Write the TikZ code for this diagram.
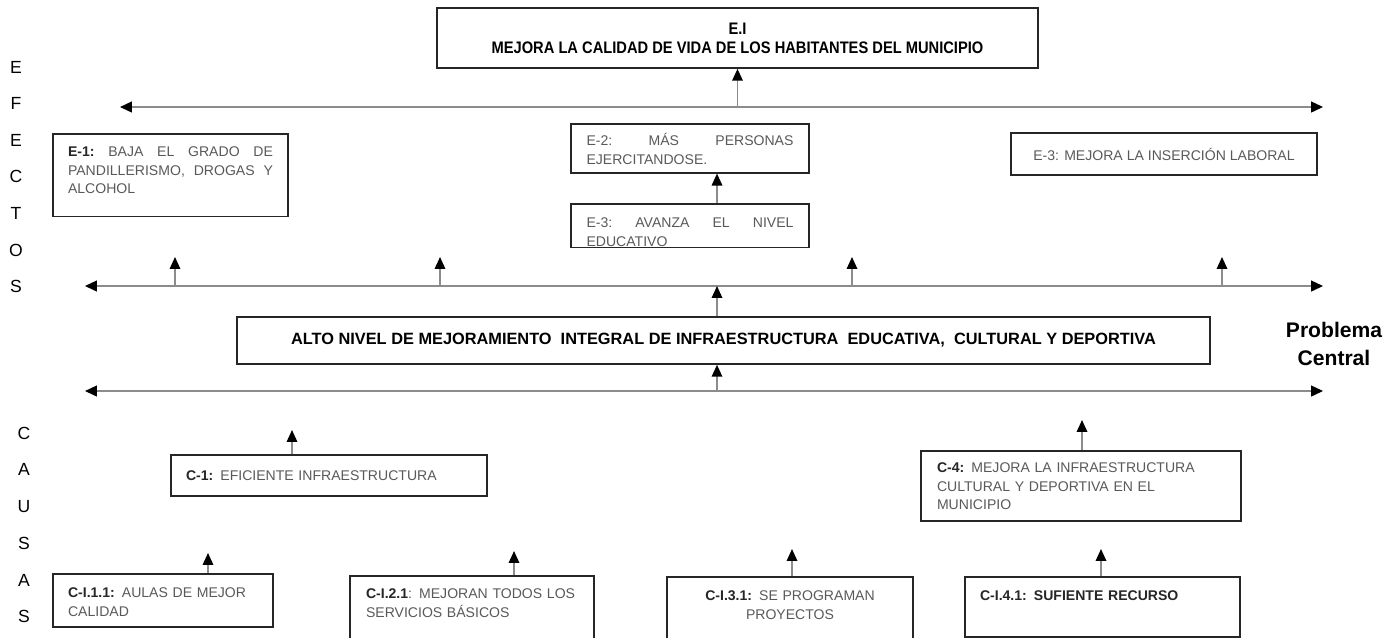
\documentclass[tikz,border=0pt]{standalone}
\usepackage{fontspec}
\setmainfont{Liberation Sans}
\newfontfamily\narrowfont[FakeStretch=0.88]{Liberation Sans}
\usepackage{xcolor}
\usepackage{tikz}
\usetikzlibrary{arrows.meta}
\tikzset{
  font={\fontsize{8pt}{10.5pt}\selectfont}}

\begin{document}
\begin{tikzpicture}[x=0.02cm, y=-0.02cm]

        \tikzset{box/.style = {draw=black!85, line width=0.9pt, rectangle, inner sep=0pt, text=black!65},
                 edge/.style = {draw=black!45, line width=0.9pt, -{Triangle[length=6.8pt,width=6pt,color=black]}},
                 hline/.style = {draw=black!45, line width=0.9pt,
                   {Triangle[length=6.8pt,width=6.2pt,color=black]}-{Triangle[length=6.8pt,width=6.2pt,color=black]}}}

        \useasboundingbox (0,0) rectangle (1393,637);
        \clip (0,0) rectangle (1393,637);

        % side labels
        \node[align=center, font={\fontsize{10pt}{20.8pt}\selectfont}] (ef) at (16,177) {E\\F\\E\\C\\T\\O\\S};
        \node[align=center, font={\fontsize{10pt}{20.9pt}\selectfont}] (ca) at (24,525) {C\\A\\U\\S\\A\\S};
        \node[align=center, font={\bfseries\fontsize{12pt}{16pt}\selectfont}] (pc) at (1334,344) {Problema\\Central};

        % vertices
        \node[box, text=black, align=center, minimum width=12.02cm, minimum height=1.2cm,
              font={\narrowfont\bfseries\fontsize{9.5pt}{10.8pt}\selectfont}] (ei)
            at (737.5,38) {E.I\\MEJORA LA CALIDAD DE VIDA DE LOS HABITANTES DEL MUNICIPIO};
        \node[box, anchor=north, minimum width=4.7cm, text width=4.1cm, align=left, text height=13pt, text depth=34pt] (e1)
            at (170.5,133) {\textcolor{black!85}{\bfseries E-1:}\hfill BAJA\hfill EL\hfill GRADO\hfill DE\\PANDILLERISMO,\hfill DROGAS\hfill Y\\ALCOHOL};
        \node[box, anchor=north, minimum width=4.76cm, text width=4.14cm, align=left, text height=12.5pt, text depth=15.4pt] (e2)
            at (690,123) {E-2:\hfill MÁS\hfill PERSONAS\\EJERCITANDOSE.};
        \begin{scope}
          \clip (560,190) rectangle (820,247.8);
          \node[box, anchor=north, minimum width=4.76cm, text width=4.14cm, align=left, text height=13.7pt, text depth=11.4pt] (e3a)
              at (690,203) {E-3:\hfill AVANZA\hfill EL\hfill NIVEL\\EDUCATIVO};
        \end{scope}
        \node[box, align=center, minimum width=6.12cm, minimum height=0.84cm] (e3b)
            at (1164,154) {E-3: MEJORA LA INSERCIÓN LABORAL};
        \node[box, text=black, align=center, minimum width=19.46cm, minimum height=0.94cm,
              font={\bfseries\fontsize{9.3pt}{11pt}\selectfont}] (prob)
            at (723.5,340.5) {ALTO NIVEL DE MEJORAMIENTO~ INTEGRAL DE INFRAESTRUCTURA~ EDUCATIVA,~ CULTURAL Y DEPORTIVA};
        \node[box, align=left, minimum width=6.32cm, minimum height=0.82cm, text width=5.72cm] (c1)
            at (329,475.5) {\textcolor{black!85}{\bfseries C-1:} EFICIENTE INFRAESTRUCTURA};
        \node[box, anchor=north, minimum width=6.4cm, text width=5.76cm, align=left, text height=12.5pt, text depth=27.3pt] (c4)
            at (1081,450) {\textcolor{black!85}{\bfseries C-4:} MEJORA LA INFRAESTRUCTURA\\CULTURAL Y DEPORTIVA EN EL\\MUNICIPIO};
        \node[box, anchor=north, minimum width=4.4cm, text width=3.8cm, align=left, text height=13.7pt, text depth=16.5pt] (ci11)
            at (163,573) {\textcolor{black!85}{\bfseries C-I.1.1:} AULAS DE MEJOR\\CALIDAD};
        \node[box, anchor=north, minimum width=4.88cm, text width=4.24cm, align=left, text height=13pt, text depth=35pt] (ci21)
            at (472,575) {\textcolor{black!85}{\bfseries C-I.2.1}: MEJORAN TODOS LOS\\SERVICIOS BÁSICOS};
        \node[box, anchor=north, minimum width=4.92cm, text width=4.3cm, align=center, text height=13.7pt, text depth=35pt] (ci31)
            at (790,576) {\textcolor{black!85}{\bfseries C-I.3.1:} SE PROGRAMAN\\PROYECTOS};
        \node[box, text=black!85, anchor=north, minimum width=5.5cm, text width=4.9cm, align=left, text height=13.7pt, text depth=20.5pt] (ci41)
            at (1102.5,576) {\bfseries C-I.4.1: SUFIENTE RECURSO};

        % levels
        \coordinate (l1w) at (120,107); \coordinate (l1e) at (1323,107);
        \coordinate (l2w) at (85,286);  \coordinate (l2e) at (1323,286);
        \coordinate (l3w) at (85,391);  \coordinate (l3e) at (1323,391);
        \coordinate (m) at (717,0);
        \draw[hline] (l1w) -- (l1e);
        \draw[hline] (l2w) -- (l2e);
        \draw[hline] (l3w) -- (l3e);

        %edges
        \draw[edge] (l1w -| ei.south) -- (ei.south);
        \foreach \x [count=\i] in {175,440,852,1222} {
          \coordinate (s\i) at (\x,257);
          \draw[edge] (l2w -| s\i) -- (s\i);
        }
        \draw[edge] (e3a.north -| m) -- (e2.south -| m);
        \draw[edge] (prob.north -| m) -- (l2w -| m);
        \draw[edge] (l3w -| m) -- (prob.south -| m);

        \coordinate (c1t) at (292,430);
        \coordinate (c4t) at (1082,420);
        \coordinate (ci11t) at (208,553);
        \coordinate (ci21t) at (514,551);
        \coordinate (ci31t) at (792,549);
        \coordinate (ci41t) at (1101,549);
        \draw[edge] (c1.north -| c1t) -- (c1t);
        \draw[edge] (c4.north -| c4t) -- (c4t);
        \draw[edge] (ci11.north -| ci11t) -- (ci11t);
        \draw[edge] (ci21.north -| ci21t) -- (ci21t);
        \draw[edge] (ci31.north -| ci31t) -- (ci31t);
        \draw[edge] (ci41.north -| ci41t) -- (ci41t);

\end{tikzpicture}
\end{document}
